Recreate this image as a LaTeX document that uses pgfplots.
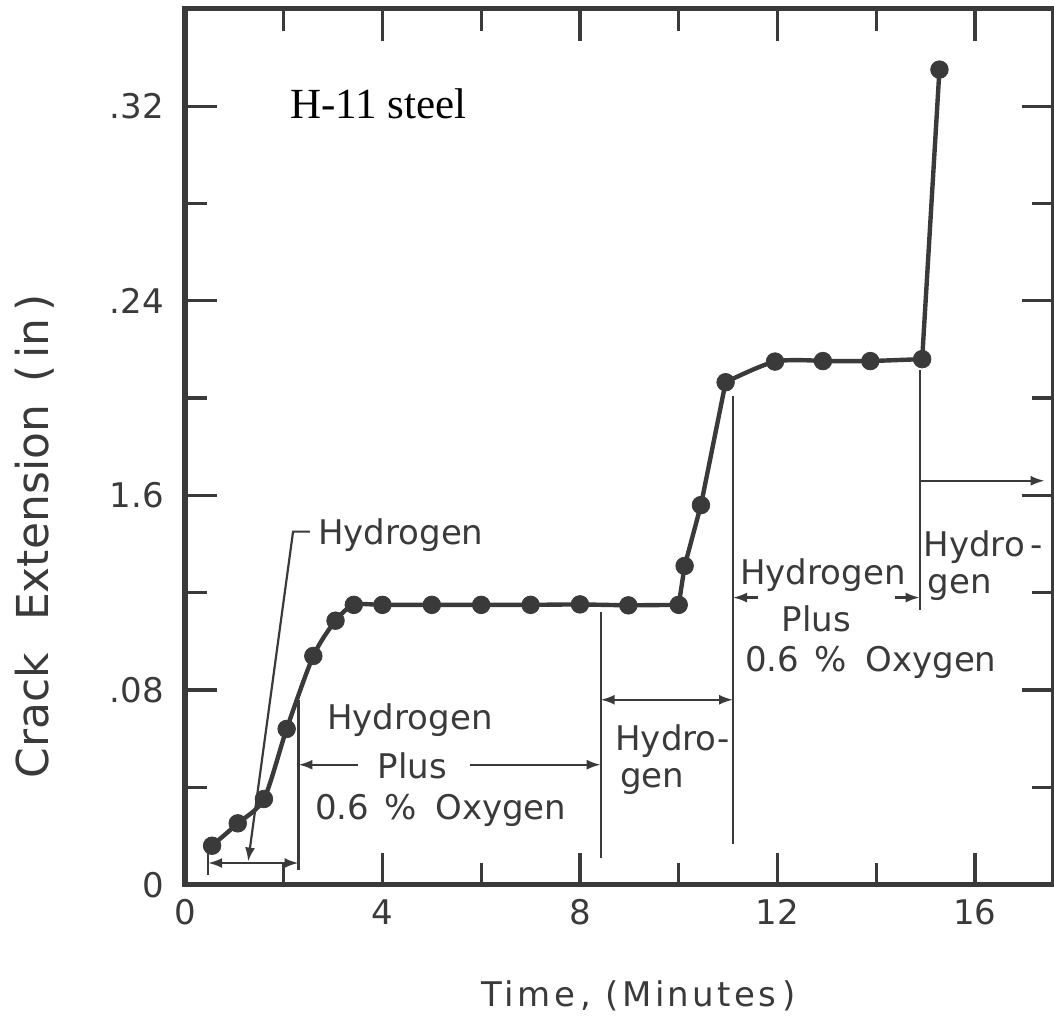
\documentclass[border=0pt]{standalone}
\usepackage{fontspec}
\setmainfont{DejaVu Sans}
\newfontfamily\serifh{Liberation Serif}
\newfontfamily\spaced[LetterSpace=10]{DejaVu Sans}
\usepackage{pgfplots}
\pgfplotsset{compat=1.18}
\usetikzlibrary{arrows.meta}
\definecolor{ink}{HTML}{3A3A3A}

\pgfplotstableread{
x y
0.55 0.0160
1.07 0.0252
1.60 0.0352
2.06 0.0640
2.60 0.0940
3.05 0.1085
3.42 0.1150
4.00 0.1150
5.00 0.1150
6.00 0.1150
7.00 0.1150
8.00 0.1152
8.98 0.1148
10.00 0.1150
10.12 0.1310
10.45 0.1560
10.95 0.2065
11.95 0.2150
12.92 0.2152
13.88 0.2152
14.93 0.2160
15.28 0.3350
}\crack

\begin{document}
\begin{tikzpicture}[
  lbl/.style={font=\fontsize{17}{20}\selectfont, text=ink, inner sep=0pt, anchor=base},
  ann/.style={draw=ink, line width=1.1pt},
  tip/.style={-{Latex[length=7pt,width=5pt]}},
  dtip/.style={{Latex[length=7pt,width=5pt]}-{Latex[length=7pt,width=5pt]}},
]
\begin{axis}[
  scale only axis, width=434.7pt, height=438.1pt,
  xmin=0, xmax=17.6, ymin=0, ymax=0.36,
  clip=false,
  axis line style={line width=2.6pt, ink},
  xtick={0,4,8,12,16}, xticklabels={0,4,8,12,16},
  minor xtick={2,6,10,14},
  ytick={0,0.08,0.16,0.24,0.32}, yticklabels={0,.08,1.6,.24,.32},
  minor ytick={0.04,0.12,0.2,0.28},
  tick align=inside,
  major tick length=16pt, minor tick length=11pt,
  every tick/.style={line width=1.6pt, ink},
  xticklabel style={font=\fontsize{17}{20}\selectfont, text=ink, yshift=-4pt},
  yticklabel style={font=\fontsize{17}{20}\selectfont, text=ink, xshift=-7pt},
  xlabel={Time\,, (Minutes\,)},
  xlabel style={font=\spaced\fontsize{17}{20}\selectfont, text=ink, at={(rel axis cs:0.522,-0.1388)}, anchor=base, inner sep=0pt},
  ylabel={Crack\hspace{16pt}Extension\hspace{11pt}(\,in\,)},
  ylabel style={font=\fontsize{22}{26}\selectfont, text=ink, at={(rel axis cs:-0.1725,0.398)}, anchor=center, inner sep=0pt},
]
\addplot[ink, line width=2.2pt, smooth, tension=0.45, forget plot] table[x=x,y=y, skip coords between index={9}{22}] {\crack};
\addplot[ink, line width=2.2pt, sharp plot, forget plot] table[x=x,y=y, skip coords between index={0}{8}, skip coords between index={17}{22}] {\crack};
\addplot[ink, line width=2.2pt, smooth, tension=0.5, forget plot] table[x=x,y=y, skip coords between index={0}{16}, skip coords between index={19}{22}] {\crack};
\addplot[ink, line width=2.2pt, sharp plot, forget plot] table[x=x,y=y, skip coords between index={0}{18}] {\crack};
\addplot[only marks, mark=*, mark size=4.4pt, ink, mark options={fill=ink, draw=ink}] table[x=x,y=y] {\crack};

% title
\node[font=\serifh\fontsize{21.5}{24}\selectfont, text=black, inner sep=0pt, anchor=base west] at (axis cs:2.13,0.315) {H-11 steel};

% first Hydrogen leader
\node[lbl, anchor=base west] at (axis cs:2.69,0.1397) {Hydrogen};
\draw[ann, tip] (axis cs:2.53,0.1451) -- (axis cs:2.19,0.1451) -- (axis cs:1.28,0.0095);
\draw[ann] (axis cs:0.47,0.0144) -- (axis cs:0.47,0.0041);
\draw[ann, dtip] (axis cs:0.47,0.0089) -- (axis cs:2.30,0.0089);
\draw[ann] (axis cs:2.30,0.076) -- (axis cs:2.30,0.0062);

% block 1
\node[lbl] at (axis cs:4.555,0.0637) {Hydrogen};
\node[lbl] at (axis cs:4.605,0.0438) {Plus};
\node[lbl] at (axis cs:5.18,0.0267) {0.6\hspace{0.45em}\%\hspace{0.55em}Oxygen};
\draw[ann, tip] (axis cs:3.50,0.0493) -- (axis cs:2.30,0.0493);
\draw[ann, tip] (axis cs:5.77,0.0493) -- (axis cs:8.42,0.0493);
\draw[ann] (axis cs:8.42,0.112) -- (axis cs:8.42,0.011);

% block middle Hydro-gen
\node[lbl, anchor=base west] at (axis cs:8.71,0.0553) {Hydro-};
\node[lbl, anchor=base west] at (axis cs:8.81,0.0400) {gen};
\draw[ann, dtip] (axis cs:8.42,0.076) -- (axis cs:11.10,0.076);
\draw[ann] (axis cs:11.10,0.2007) -- (axis cs:11.10,0.0167);

% block 2
\node[lbl] at (axis cs:12.92,0.1233) {Hydrogen};
\node[lbl] at (axis cs:12.79,0.1040) {Plus};
\node[lbl] at (axis cs:13.89,0.0876) {0.6\hspace{0.45em}\%\hspace{0.55em}Oxygen};
\draw[ann, tip] (axis cs:11.60,0.118) -- (axis cs:11.10,0.118);
\draw[ann, tip] (axis cs:14.37,0.118) -- (axis cs:14.88,0.118);
\draw[ann] (axis cs:14.88,0.2116) -- (axis cs:14.88,0.113);
\draw[ann, tip] (axis cs:14.88,0.166) -- (axis cs:17.41,0.166);

% right Hydro-gen
\node[lbl, anchor=base west] at (axis cs:14.95,0.1349) {Hydro\,-};
\node[lbl, anchor=base west] at (axis cs:15.04,0.1198) {gen};

\coordinate (SW) at (rel axis cs:0,0);
\coordinate (NE) at (rel axis cs:1,1);
\end{axis}
\pgfresetboundingbox
\path[use as bounding box] ([shift={(-92.5pt,-69.5pt)}]SW) rectangle ([shift={(0pt,4.4pt)}]NE);
\end{tikzpicture}
\end{document}
